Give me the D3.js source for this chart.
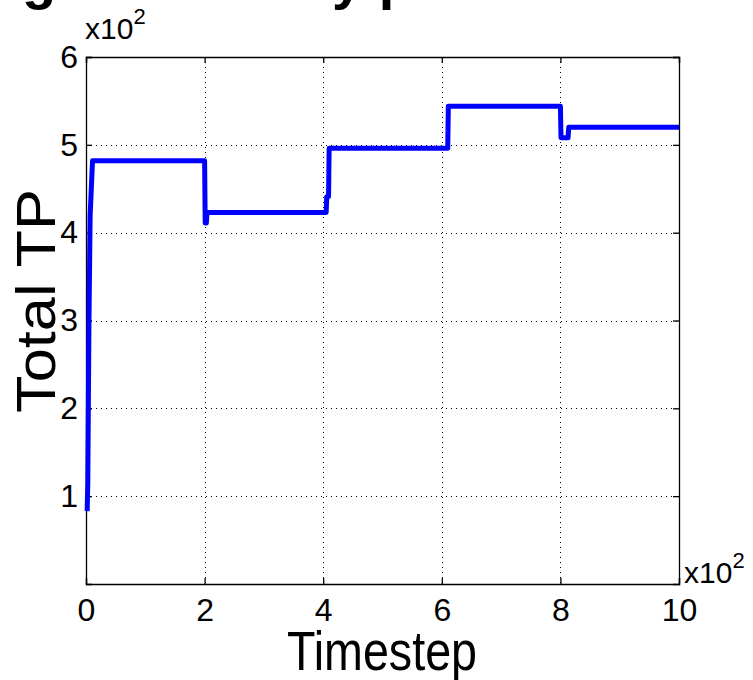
<html lang="en">
<head>
    <meta charset="UTF-8">
    <title>Total TP</title>
    <style>
        body { margin: 0; background: #ffffff; }
        text { font-family: "Liberation Sans", Arial, sans-serif; fill: #000000; }
    </style>
</head>
<body>
<script src="https://cdn.jsdelivr.net/npm/d3@7"></script>
<script>
    // step curve (timestep, total TP)
    var timesteps = [2, 3, 5, 7, 11, 200, 201, 203, 204, 405, 406, 409, 410, 610, 611, 800, 801, 813, 814, 1000];
    var totalTP   = [83, 115, 300, 420, 482, 482, 411, 411, 423, 423, 441, 441, 496, 496, 544, 544, 508, 508, 520, 520];
    var xTicks = [0, 200, 400, 600, 800, 1000];
    var yTicks = [100, 200, 300, 400, 500, 600];

    var data = timesteps.map(function(t, i){ return {t: t, v: totalTP[i]}; });

    var plotLeft = 86, plotTop = 57, plotRight = 679, plotBottom = 584;

    var svg = d3.select("body").append("svg").attr("width", 753).attr("height", 680);

    // cropped title from the slide above the chart (only descenders show)
    svg.append("text").attr("x", 22).attr("y", -2)
        .style("font-size", "56px").style("font-weight", "bold").text("g");
    svg.append("text").attr("x", 332).attr("y", -2)
        .style("font-size", "56px").style("font-weight", "bold").text("y p");

    var x = d3.scaleLinear().domain([0, 1000]).range([plotLeft, plotRight]);
    var y = d3.scaleLinear().domain([0, 600]).range([plotBottom, plotTop]);

    // grid
    var grid = svg.append("g").attr("stroke", "#000").attr("stroke-width", 1)
        .attr("stroke-dasharray", "1,4").attr("shape-rendering", "crispEdges");
    grid.selectAll(".gx").data(xTicks.slice(1, -1)).enter().append("line")
        .attr("x1", function(d){ return Math.round(x(d)) + 0.5; })
        .attr("x2", function(d){ return Math.round(x(d)) + 0.5; })
        .attr("y1", plotTop).attr("y2", plotBottom);
    grid.selectAll(".gy").data(yTicks.slice(0, -1)).enter().append("line")
        .attr("y1", function(d){ return Math.round(y(d)) + 0.5; })
        .attr("y2", function(d){ return Math.round(y(d)) + 0.5; })
        .attr("x1", plotLeft).attr("x2", plotRight);

    // axes with inward ticks, labels in hundreds
    var fmt = function(d){ return d / 100; };
    var xAxis = svg.append("g").attr("transform", "translate(0," + plotBottom + ")")
        .call(d3.axisBottom(x).tickValues(xTicks).tickSize(-6).tickPadding(14).tickFormat(fmt));
    var xTop = svg.append("g").attr("transform", "translate(0," + plotTop + ")")
        .call(d3.axisTop(x).tickValues(xTicks).tickSize(-6).tickFormat(""));
    var yAxis = svg.append("g").attr("transform", "translate(" + plotLeft + ",0)")
        .call(d3.axisLeft(y).tickValues(yTicks).tickSize(-6).tickPadding(8).tickFormat(fmt));
    var yRight = svg.append("g").attr("transform", "translate(" + plotRight + ",0)")
        .call(d3.axisRight(y).tickValues(yTicks).tickSize(-6).tickFormat(""));

    [xAxis, xTop, yAxis, yRight].forEach(function(a){
        a.selectAll("path, line").attr("stroke", "#000").attr("stroke-width", 1.3);
        a.selectAll("text").style("font-size", "32px").attr("fill", "#000");
    });
    xAxis.selectAll("text").attr("dy", "0.72em");

    // multiplier labels
    var m1 = svg.append("text").attr("x", 85).attr("y", 39).style("font-size", "30px").text("x10");
    m1.append("tspan").attr("dy", -15).style("font-size", "22px").text("2");
    var m2 = svg.append("text").attr("x", 684).attr("y", 583).style("font-size", "30px").text("x10");
    m2.append("tspan").attr("dy", -15).style("font-size", "22px").text("2");

    // line
    var line = d3.line().x(function(d){ return x(d.t); }).y(function(d){ return y(d.v); });
    svg.append("path").datum(data).attr("d", line)
        .attr("fill", "none").attr("stroke", "#0000ff").attr("stroke-width", 5)
        .attr("stroke-linejoin", "round");

    // axis titles
    svg.append("text").attr("x", 382).attr("y", 670).attr("text-anchor", "middle")
        .attr("textLength", 190).attr("lengthAdjust", "spacingAndGlyphs")
        .style("font-size", "56px").text("Timestep");
    svg.append("text").attr("transform", "translate(55,301) rotate(-90)").attr("text-anchor", "middle")
        .attr("textLength", 224).attr("lengthAdjust", "spacingAndGlyphs")
        .style("font-size", "56px").text("Total TP");
</script>
</body>
</html>
